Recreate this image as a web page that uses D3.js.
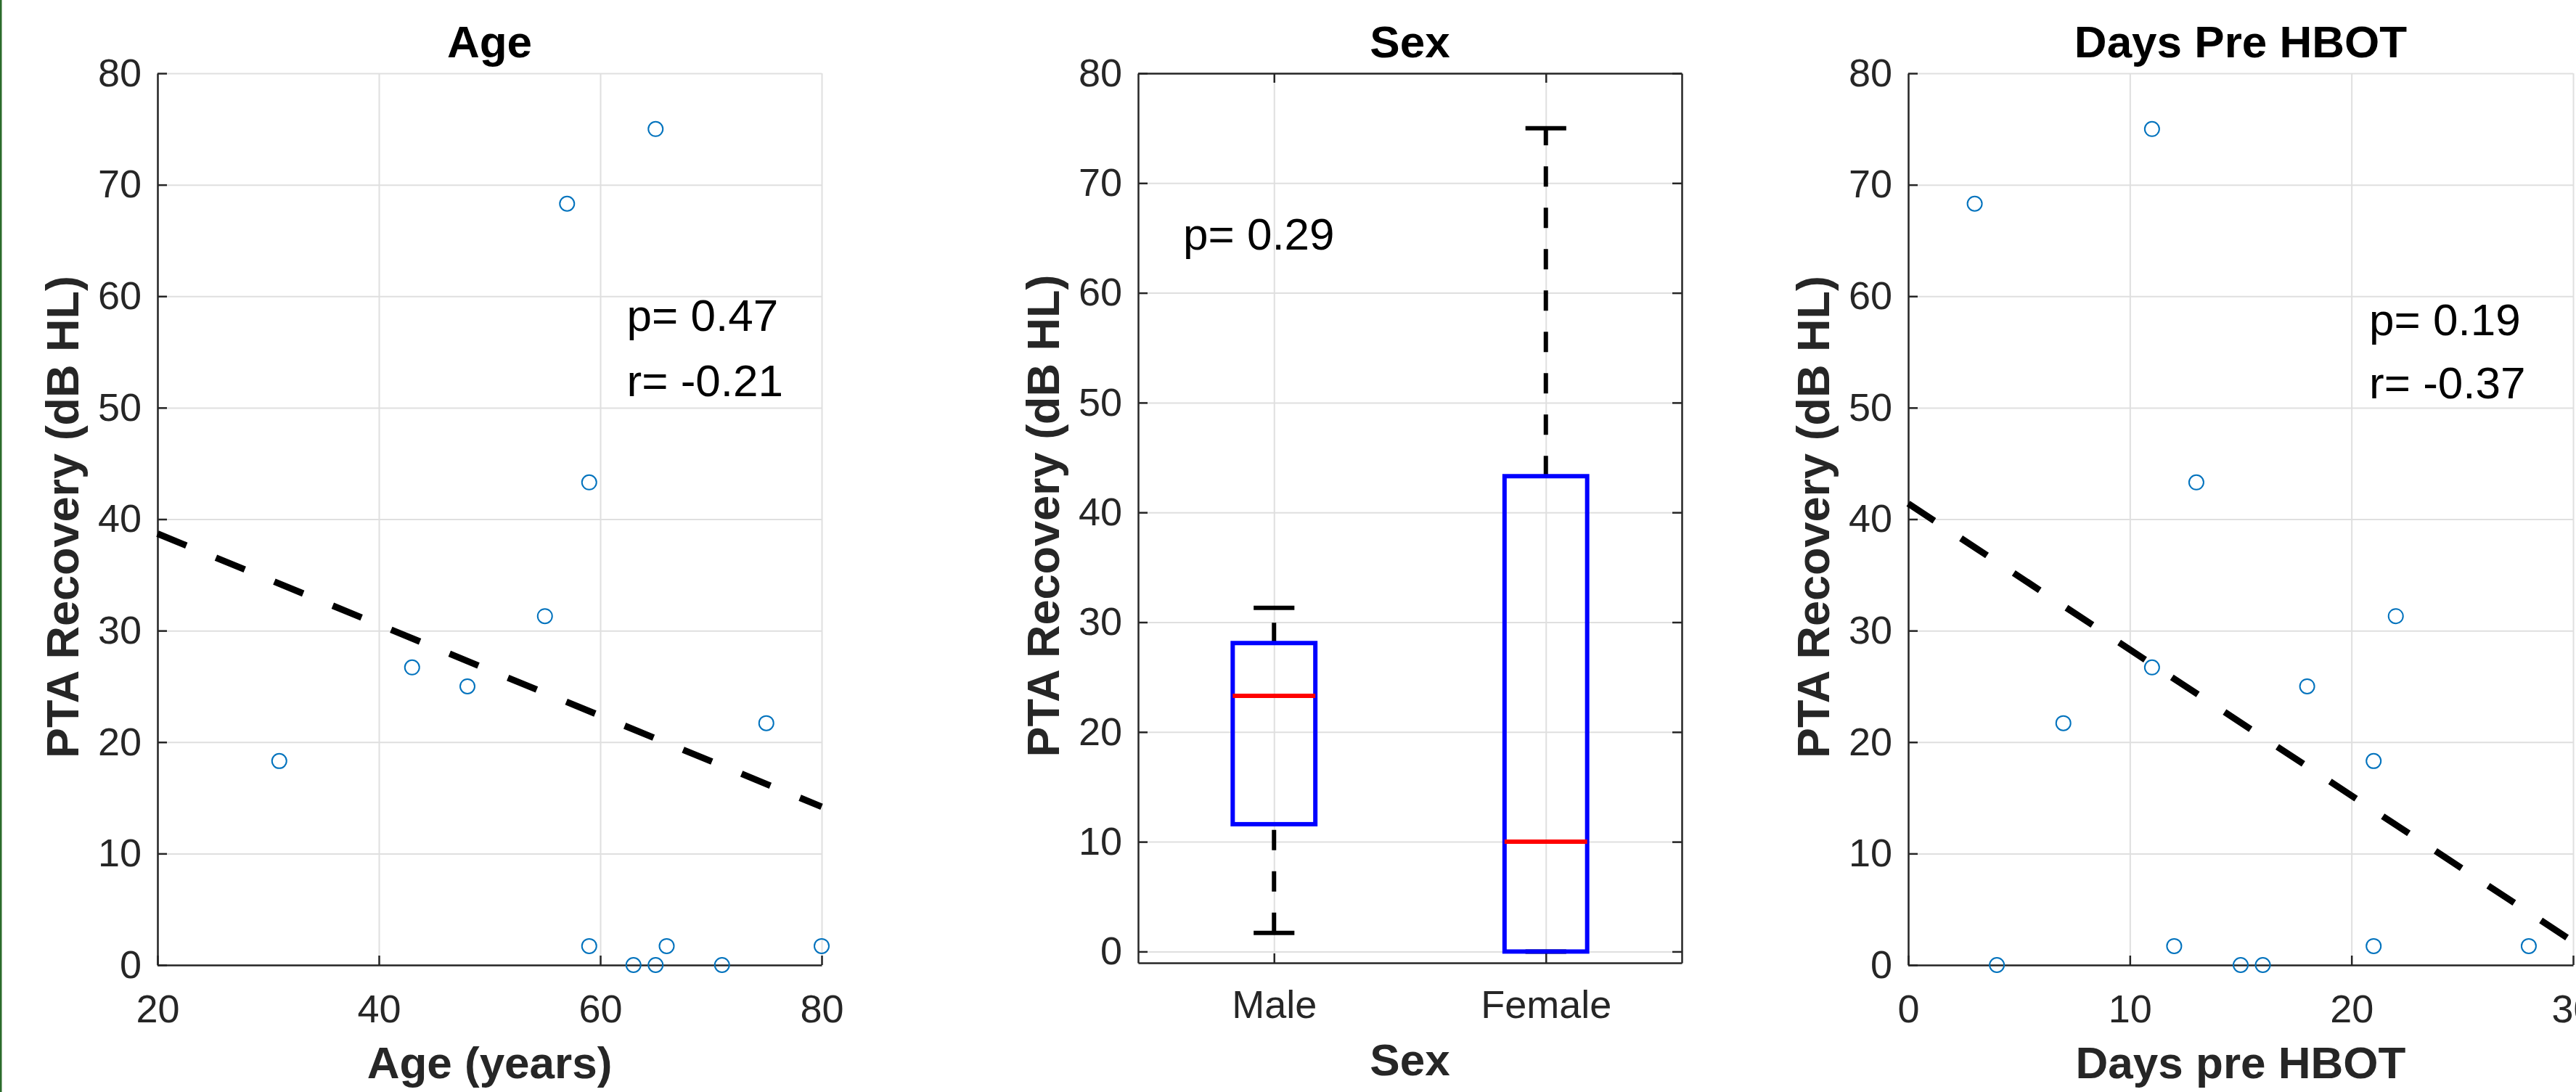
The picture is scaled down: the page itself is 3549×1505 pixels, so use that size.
<!DOCTYPE html>
<html>
<head>
<meta charset="utf-8">
<script src="https://cdn.jsdelivr.net/npm/d3@7"></script>
<style>
  body { margin: 0; background: #fff; }
  svg { display: block; }
</style>
</head>
<body>
<div id="chart-area"></div>
<script>
// ---- data ----
var yTicks = [0, 10, 20, 30, 40, 50, 60, 70, 80];
var ageTicks = [20, 40, 60, 80];
var daysTicks = [0, 10, 20, 30];

var ageYears    = [65, 57, 59, 55, 43, 48, 75, 31, 59, 63, 65, 66, 71, 80];
var ageRecovery = [75, 68.3, 43.3, 31.3, 26.7, 25, 21.7, 18.3, 1.7, 0, 0, 1.7, 0, 1.7];

var daysPre      = [11, 3, 13, 22, 11, 18, 7, 21, 4, 12, 15, 16, 21, 28];
var daysRecovery = [75, 68.3, 43.3, 31.3, 26.7, 25, 21.7, 18.3, 0, 1.7, 0, 0, 1.7, 1.7];

var ageFitX = [20, 80],  ageFitY = [38.7, 14.2];
var daysFitX = [0, 30],  daysFitY = [41.4, 2.1];

var sexGroups   = ["Male", "Female"];
var whiskerLow  = [1.7, 0];
var boxQ1       = [11.6, 0];
var boxMedian   = [23.3, 10];
var boxQ3       = [28.1, 43.3];
var whiskerHigh = [31.3, 75];

var ageNote  = ["p= 0.47", "r= -0.21"];
var sexNote  = ["p= 0.29"];
var daysNote = ["p= 0.19", "r= -0.37"];

// ---- layout ----
var W = 3549, H = 1505;
var FONT = "'Liberation Sans', Arial, Helvetica, sans-serif";
var AXC = "#262626", GRIDC = "#dfdfdf";

var svg = d3.select("#chart-area")
    .append("svg")
        .attr("width", W)
        .attr("height", H);

svg.append("rect").attr("width", W).attr("height", H).attr("fill", "#fff");
svg.append("rect").attr("x", 0).attr("y", 0).attr("width", 2.5).attr("height", H).attr("fill", "#2b6b2b");

function styleAxis(sel, labelSize) {
    sel.attr("font-size", labelSize).attr("font-family", FONT).attr("color", AXC);
    sel.select(".domain").attr("stroke-width", 2.5);
    sel.selectAll(".tick line").attr("stroke-width", 2.5);
}

function gridLines(g, x, y, w, h, xTickVals) {
    var gy = g.append("g")
        .call(d3.axisLeft(y).tickValues(yTicks).tickSize(-w).tickFormat(""));
    gy.select(".domain").remove();
    gy.selectAll("line").attr("stroke", GRIDC).attr("stroke-width", 2);

    var gx = g.append("g")
        .attr("transform", "translate(0," + h + ")")
        .call(d3.axisBottom(x).tickValues(xTickVals).tickSize(-h).tickFormat(""));
    gx.select(".domain").remove();
    gx.selectAll("line").attr("stroke", GRIDC).attr("stroke-width", 2);
}

function labels(g, w, h, title, xlab, tickBase, xlabBase) {
    g.append("text")
        .attr("x", w / 2).attr("y", 79 - 101)
        .attr("text-anchor", "middle")
        .attr("font-family", FONT).attr("font-weight", "bold").attr("font-size", 62)
        .attr("fill", "#000")
        .text(title);

    g.append("text")
        .attr("x", w / 2).attr("y", h + xlabBase)
        .attr("text-anchor", "middle")
        .attr("font-family", FONT).attr("font-weight", "bold").attr("font-size", 62)
        .attr("fill", AXC)
        .text(xlab);

    g.append("text")
        .attr("transform", "translate(-109," + (h / 2 - 3) + ") rotate(-90)")
        .attr("text-anchor", "middle")
        .attr("font-family", FONT).attr("font-weight", "bold").attr("font-size", 63)
        .attr("fill", AXC)
        .text("PTA Recovery (dB HL)");
}

function notes(g, lines, px, baselines) {
    lines.forEach(function(t, i) {
        g.append("text")
            .attr("x", px).attr("y", baselines[i])
            .attr("font-family", FONT).attr("font-size", 62)
            .attr("fill", "#000")
            .text(t);
    });
}

// scatter panel with dashed least squares line
function scatterPanel(opts) {
    var w = opts.right - opts.left, h = opts.bottom - opts.top;
    var g = svg.append("g").attr("transform", "translate(" + opts.left + "," + opts.top + ")");

    var x = d3.scaleLinear().domain(opts.xDomain).range([0, w]);
    var y = d3.scaleLinear().domain([0, 80]).range([h, 0]);

    gridLines(g, x, y, w, h, opts.xTicks);

    var ax = g.append("g")
        .call(d3.axisLeft(y).tickValues(yTicks).tickSizeInner(-13).tickSizeOuter(0).tickPadding(22));
    styleAxis(ax, 54);

    var bx = g.append("g")
        .attr("transform", "translate(0," + h + ")")
        .call(d3.axisBottom(x).tickValues(opts.xTicks).tickSizeInner(-13).tickSizeOuter(0).tickPadding(40.7));
    styleAxis(bx, 54);

    var line = d3.line()
        .x(function(d) { return x(d[0]); })
        .y(function(d) { return y(d[1]); });

    g.append("path")
        .datum(d3.zip(opts.fitX, opts.fitY))
        .attr("d", line)
        .attr("fill", "none")
        .attr("stroke", "#000")
        .attr("stroke-width", 9)
        .attr("stroke-dasharray", "43,44");

    g.selectAll("circle.pt")
        .data(d3.zip(opts.xs, opts.ys))
        .enter()
        .append("circle")
            .attr("class", "pt")
            .attr("cx", function(d) { return x(d[0]); })
            .attr("cy", function(d) { return y(d[1]); })
            .attr("r", 10)
            .attr("fill", "none")
            .attr("stroke", "#0072BD")
            .attr("stroke-width", 2);

    labels(g, w, h, opts.title, opts.xLabel, 79, 156);
    notes(g, opts.note, x(opts.noteX) , opts.noteBase);
}

scatterPanel({
    left: 217, right: 1132, top: 101, bottom: 1330,
    xDomain: [20, 80], xTicks: ageTicks,
    xs: ageYears, ys: ageRecovery,
    fitX: ageFitX, fitY: ageFitY,
    title: "Age", xLabel: "Age (years)",
    note: ageNote, noteX: 62.4, noteBase: [456 - 101, 546 - 101]
});

scatterPanel({
    left: 2629, right: 3545, top: 101, bottom: 1330,
    xDomain: [0, 30], xTicks: daysTicks,
    xs: daysPre, ys: daysRecovery,
    fitX: daysFitX, fitY: daysFitY,
    title: "Days Pre HBOT", xLabel: "Days pre HBOT",
    note: daysNote, noteX: 20.8, noteBase: [462 - 101, 549 - 101]
});

// ---- box plot panel ----
(function() {
    var left = 1568, right = 2317, top = 101, bottom = 1327;
    var w = right - left, h = bottom - top;
    var g = svg.append("g").attr("transform", "translate(" + left + "," + top + ")");

    var x = d3.scalePoint().domain(sexGroups).range([0, w]).padding(0.5);
    var y = d3.scaleLinear().domain([-1.03, 80]).range([h, 0]);
    var step = x.step();

    gridLines(g, x, y, w, h, sexGroups);

    var ax = g.append("g")
        .call(d3.axisLeft(y).tickValues(yTicks).tickSizeInner(-13).tickSizeOuter(0).tickPadding(22));
    styleAxis(ax, 54);
    var rx = g.append("g")
        .attr("transform", "translate(" + w + ",0)")
        .call(d3.axisRight(y).tickValues(yTicks).tickSizeInner(-13).tickSizeOuter(0).tickFormat(""));
    styleAxis(rx, 54);
    var bx = g.append("g")
        .attr("transform", "translate(0," + h + ")")
        .call(d3.axisBottom(x).tickSizeInner(-13).tickSizeOuter(0).tickPadding(37.7));
    styleAxis(bx, 54);
    var tx = g.append("g")
        .call(d3.axisTop(x).tickSizeInner(-13).tickSizeOuter(0).tickFormat(""));
    styleAxis(tx, 54);

    var boxHalf = 0.152 * step, capHalf = 0.075 * step;

    sexGroups.forEach(function(s, i) {
        var cx = x(s);
        // whiskers, drawn from the lower value upwards
        [[whiskerLow[i], boxQ1[i]], [boxQ3[i], whiskerHigh[i]]].forEach(function(seg) {
            if (seg[0] === seg[1]) return;
            g.append("line")
                .attr("x1", cx).attr("x2", cx)
                .attr("y1", y(seg[0])).attr("y2", y(seg[1]))
                .attr("stroke", "#000").attr("stroke-width", 6)
                .attr("stroke-dasharray", "28,29");
        });
        [whiskerLow[i], whiskerHigh[i]].forEach(function(v) {
            g.append("line")
                .attr("x1", cx - capHalf).attr("x2", cx + capHalf)
                .attr("y1", y(v)).attr("y2", y(v))
                .attr("stroke", "#000").attr("stroke-width", 6);
        });
        g.append("rect")
            .attr("x", cx - boxHalf).attr("width", 2 * boxHalf)
            .attr("y", y(boxQ3[i])).attr("height", y(boxQ1[i]) - y(boxQ3[i]))
            .attr("fill", "none").attr("stroke", "#0000FF").attr("stroke-width", 6);
        g.append("line")
            .attr("x1", cx - boxHalf).attr("x2", cx + boxHalf)
            .attr("y1", y(boxMedian[i])).attr("y2", y(boxMedian[i]))
            .attr("stroke", "#FF0000").attr("stroke-width", 6);
    });

    labels(g, w, h, "Sex", "Sex", 76, 154.5);
    notes(g, sexNote, 62, [344 - 101]);
})();
</script>
</body>
</html>
